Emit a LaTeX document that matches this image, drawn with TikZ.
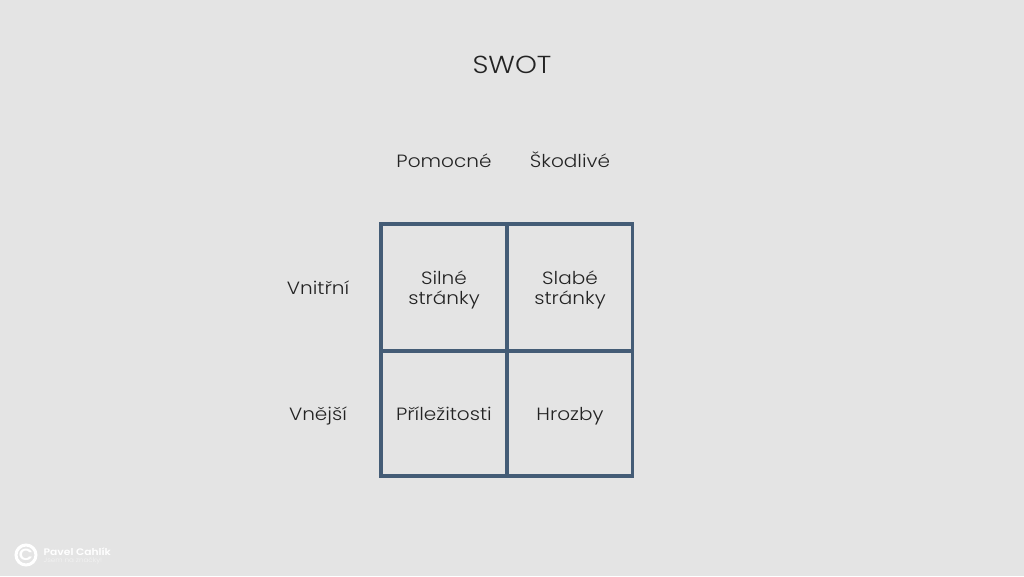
\documentclass[tikz,border=0pt]{standalone}
\usepackage{fontspec}
\setmainfont{Poppins Light}[FakeStretch=1.13,BoldFont={Poppins SemiBold}]
\usetikzlibrary{positioning}
\definecolor{bgGray}{RGB}{228,228,228}
\definecolor{gridBlue}{RGB}{68,92,118}
\definecolor{textDark}{RGB}{35,35,35}
\tikzset{
    label text/.style={text=textDark, font=\fontsize{5.05}{5.4}\selectfont, align=center, inner sep=0pt, anchor=base},
    title text/.style={text=textDark, font=\fontsize{7}{9}\selectfont, inner sep=0pt, anchor=base},
    logo text/.style={text=white, inner sep=0pt, anchor=base west}
}
\begin{document}
\begin{tikzpicture}
% Background fixes the page size
\fill[bgGray] (0,0) rectangle (10.24,5.76);
\useasboundingbox (0,0) rectangle (10.24,5.76);

% Outer frame and the cross inside
\draw[gridBlue, line width=0.038cm] (3.81,1) rectangle (6.325,3.52);
\draw[gridBlue, line width=0.038cm] (5.07,1) -- (5.07,3.52);
\draw[gridBlue, line width=0.038cm] (3.81,2.25) -- (6.325,2.25);

% Title
\node[title text] (title) at (5.12,5.03) {SWOT};

% Column heads
\node[label text] (pomocne) at (4.44,4.09) {Pomocné};
\node[label text] (skodlive) at (5.70,4.09) {Škodlivé};

% Row heads
\node[label text] (vnitrni) at (3.18,2.82) {Vnitřní};
\node[label text] (vnejsi) at (3.18,1.555) {Vnější};

% Cells
\node[label text] (silne) at (4.44,2.92) {Silné};
\node[label text] (silnestr) at (4.44,2.72) {stránky};
\node[label text] (slabe) at (5.70,2.92) {Slabé};
\node[label text] (slabestr) at (5.70,2.72) {stránky};
\node[label text] (prilezitosti) at (4.44,1.555) {Příležitosti};
\node[label text] (hrozby) at (5.70,1.555) {Hrozby};

% Logo in the corner
\node[circle, draw=white, line width=0.03cm, minimum size=0.2cm, inner sep=0pt, text=white, font=\bfseries\fontsize{4.6}{5}\selectfont] (logo) at (0.26,0.21) {C};
\node[logo text, font=\bfseries\fontsize{2.7}{3}\selectfont] (pavel) at (0.43,0.21) {Pavel Cahlík};
\node[logo text, font=\fontsize{1.8}{2}\selectfont, opacity=0.6] (znacky) at (0.43,0.14) {Jsem na značky!};
\end{tikzpicture}
\end{document}
